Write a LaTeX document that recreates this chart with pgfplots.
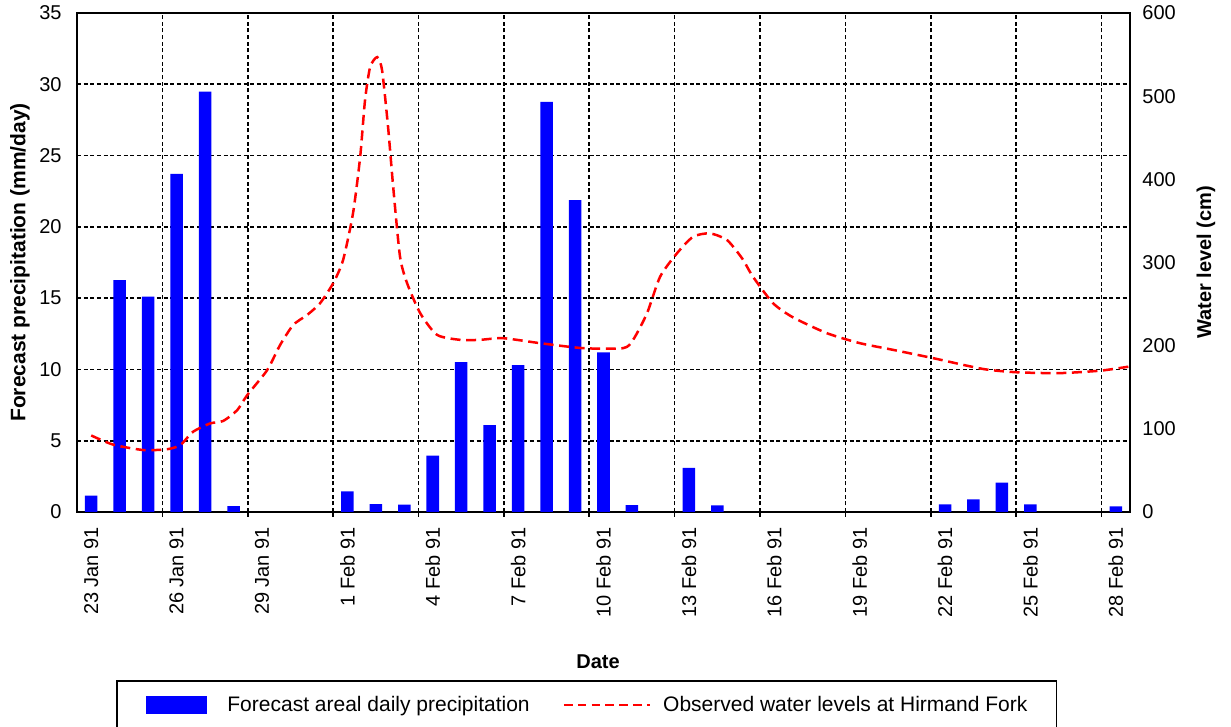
\documentclass[border=0pt]{standalone}
\usepackage{pgfplots}
\pgfplotsset{compat=1.18}
\usepackage{fontspec}
\setmainfont{Liberation Sans}
\begin{document}
\begin{tikzpicture}
\begin{axis}[
  name=ax,
  scale only axis,
  width=526.5pt, height=249.5pt,
  xmin=-0.5, xmax=36.5,
  ymin=0, ymax=35,
  ytick={0,5,...,35},
  xtick={0,3,...,36},
  xticklabels={23 Jan 91,26 Jan 91,29 Jan 91,1 Feb 91,4 Feb 91,7 Feb 91,10 Feb 91,13 Feb 91,16 Feb 91,19 Feb 91,22 Feb 91,25 Feb 91,28 Feb 91},
  extra x ticks={2.5,5.5,...,35.5},
  extra x tick labels={},
  xtick pos=left,
  extra x tick style={grid=major, tick align=outside, major tick length=2.5pt,
    tick style={draw=black, line width=0.8pt, dash pattern=on 2pt off 1.33pt}},
  ymajorgrids,
  grid style={black, line width=0.8pt, dash pattern=on 2pt off 1.33pt},
  tick style={draw=none},
  axis line style={line width=0.9pt},
  /pgf/number format/assume math mode=true,
  ticklabel style={font=\fontsize{10}{12}\selectfont},
  xticklabel style={rotate=90, anchor=east},
  xticklabel shift=4pt,
  yticklabel shift=4.2pt,
  ylabel={Forecast precipitation (mm/day)},
  ylabel style={font=\fontsize{10.5}{12}\selectfont\bfseries, at={(axis description cs:-0.0541,0.5)}, anchor=center},
  xlabel={Date},
  xlabel style={font=\fontsize{10}{12}\selectfont\bfseries, at={(axis description cs:0.4948,-0.3006)}, anchor=center},
]
\addplot[ybar, bar shift=0pt, bar width=0.44, fill=blue, draw=none] coordinates {
(0,1.14) (1,16.27) (2,15.1) (3,23.71) (4,29.48) (5,0.42) (9,1.45) (10,0.56) (11,0.51) (12,3.95) (13,10.52) (14,6.1) (15,10.31) (16,28.76) (17,21.88) (18,11.2) (19,0.49) (21,3.09) (22,0.47) (30,0.54) (31,0.89) (32,2.06) (33,0.54) (36,0.4)
};
\end{axis}
\begin{axis}[
  scale only axis,
  width=526.5pt, height=249.5pt,
  xmin=-0.5, xmax=36.5,
  ymin=0, ymax=600,
  axis x line=none, axis y line*=right,
  ytick={0,100,...,600},
  tick style={draw=none},
  axis line style={line width=0.9pt},
  /pgf/number format/assume math mode=true,
  ticklabel style={font=\fontsize{10}{12}\selectfont},
  yticklabel shift=2.7pt,
  ylabel={Water level (cm)},
  ylabel style={font=\fontsize{10}{12}\selectfont\bfseries, at={(axis description cs:1.0722,0.5)}, anchor=center},
  legend columns=2,
  legend cell align=left,
  legend style={at={(axis description cs:0.03704,-0.33667)}, anchor=north west, draw=black, line width=0.8pt,
    font=\fontsize{10.5}{12}\selectfont, inner xsep=14.5pt, inner ysep=7.5pt,
    nodes={inner sep=0pt},
    /tikz/column 1/.style={column sep=10pt},
    /tikz/column 2/.style={column sep=16.5pt},
    /tikz/column 3/.style={column sep=6pt}},
]
\addlegendimage{legend image code/.code={\fill[blue] (0pt,-4pt) rectangle (30pt,4pt);}}
\addlegendentry{Forecast areal daily precipitation}
\addplot[red, line width=1.25pt, dash pattern=on 5pt off 2.8pt, smooth, tension=0.4,
  legend image code/.code={\draw[red, line width=1.25pt, dash pattern=on 4.3pt off 2.6pt] (0pt,0pt) -- (43pt,0pt);}] coordinates {
(0,92) (0.77,81) (1.83,74.5) (2.67,75.5) (3.13,80.5) (3.58,96.5) (4.18,106.5) (4.64,109.5) (5.13,122.5) (5.48,140.5) (6.18,170.5) (6.64,201) (7.10,225) (7.59,237) (8.04,251) (8.50,275) (8.85,303) (9.20,359.5) (9.45,427) (9.62,495) (9.80,535) (10.05,547) (10.22,531) (10.43,463) (10.61,391) (10.85,307) (11.10,275) (11.56,239) (12.15,213) (12.96,207) (13.66,207) (14.47,209) (15.77,203) (17.28,197) (18.69,197) (19.04,207) (19.53,239) (19.99,283) (20.58,311) (21.15,331) (21.74,335) (22.34,327) (22.87,305) (23.25,283) (23.96,251) (24.66,234) (25.85,215) (27.01,203) (28.17,195) (29.58,185) (31.33,172) (32.53,168) (34.04,167) (35.48,170) (36.49,175)
};
\addlegendentry{Observed water levels at Hirmand Fork}
\end{axis}
\pgfresetboundingbox
\path[use as bounding box] ([shift={(-38.5pt,-107.5pt)}]ax.south west) rectangle ([shift={(50.5pt,6.5pt)}]ax.north east);
\end{tikzpicture}
\end{document}
